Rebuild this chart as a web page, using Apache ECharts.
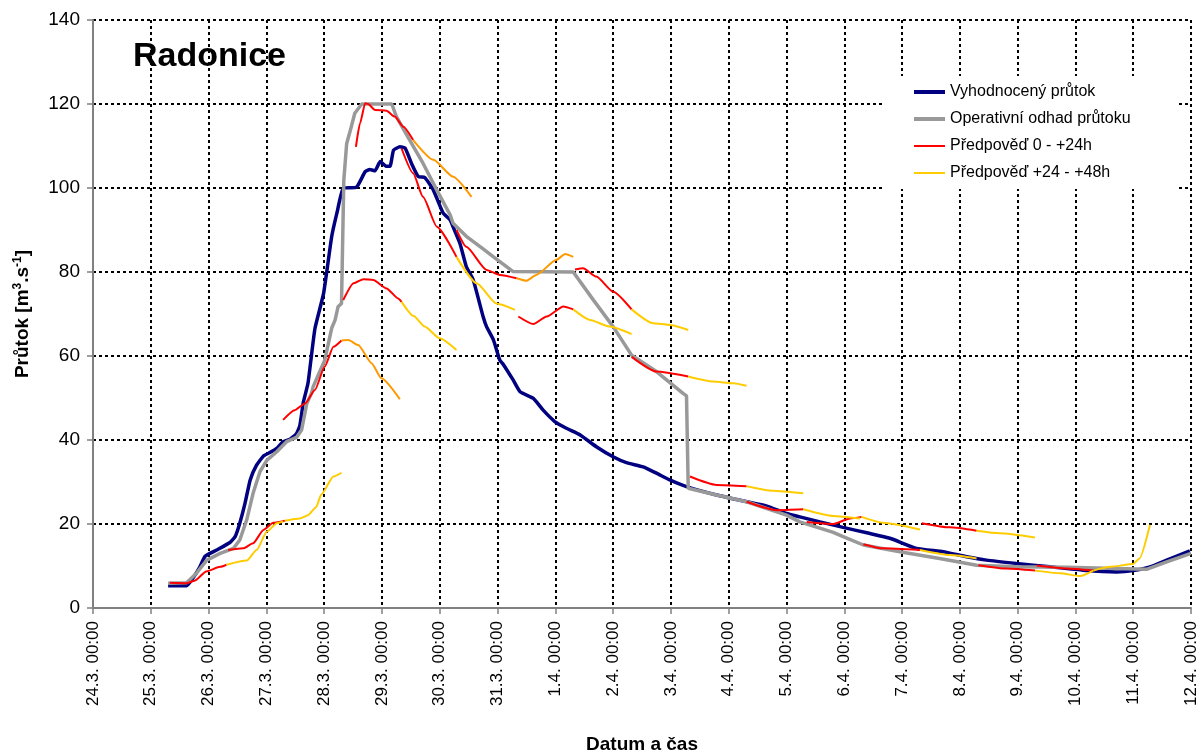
<!DOCTYPE html>
<html>
<head>
<meta charset="utf-8">
<script src="https://cdn.jsdelivr.net/npm/echarts@6/dist/echarts.min.js"></script>
<style>
html,body{margin:0;padding:0;background:#fff;}
#chart{width:1200px;height:754px;}
</style>
</head>
<body>
<div id="chart"></div>
<script>
// x values = days since 24.3. 00:00
const tickLabels = ['24.3. 00:00','25.3. 00:00','26.3. 00:00','27.3. 00:00','28.3. 00:00','29.3. 00:00','30.3. 00:00','31.3. 00:00','1.4. 00:00','2.4. 00:00','3.4. 00:00','4.4. 00:00','5.4. 00:00','6.4. 00:00','7.4. 00:00','8.4. 00:00','9.4. 00:00','10.4. 00:00','11.4. 00:00','12.4. 00:00'];
const yTicks = [0,20,40,60,80,100,120,140];

const observed = [[1.30,5.3],[1.62,5.3],[1.71,6.7],[1.85,9.8],[1.94,12.3],[2.14,13.8],[2.37,15.6],[2.46,17.0],[2.54,20.2],[2.63,24.9],[2.72,30.5],[2.83,34.0],[2.95,36.2],[3.06,37.0],[3.18,38.0],[3.29,39.6],[3.41,40.2],[3.52,41.5],[3.58,43.5],[3.64,49.0],[3.72,53.5],[3.84,66.5],[3.99,74.9],[4.13,88.4],[4.22,94.0],[4.33,99.9],[4.56,100.2],[4.71,103.9],[4.79,104.4],[4.88,104.1],[4.97,106.3],[5.07,105.2],[5.14,105.2],[5.20,109.0],[5.31,109.8],[5.40,109.5],[5.51,105.9],[5.63,102.7],[5.74,102.5],[5.89,99.5],[6.06,94.0],[6.18,92.4],[6.23,90.8],[6.35,86.8],[6.46,81.3],[6.58,78.1],[6.75,69.4],[6.81,67.0],[6.93,63.8],[7.04,59.0],[7.10,58.0],[7.27,54.3],[7.39,51.5],[7.62,49.9],[7.79,47.1],[7.99,44.4],[8.19,42.8],[8.43,41.2],[8.71,38.4],[9.00,36.0],[9.23,34.6],[9.52,33.6],[9.75,32.1],[9.98,30.5],[10.27,28.9],[10.79,26.9],[11.31,25.3],[11.65,24.3],[12.00,22.5],[12.23,21.7],[12.58,20.5],[12.98,19.2],[13.39,17.9],[13.79,16.6],[14.25,14.2],[14.71,13.4],[15.12,12.2],[15.46,11.4],[15.98,10.6],[16.56,9.8],[17.13,9.0],[17.71,8.6],[18.00,8.9],[18.29,9.8],[18.58,11.4],[18.98,13.6]];

const operative = [[1.30,5.9],[1.62,6.0],[1.79,8.3],[1.97,11.4],[2.20,13.0],[2.43,14.2],[2.54,16.2],[2.66,21.0],[2.77,27.3],[2.89,32.5],[3.01,35.2],[3.18,37.2],[3.35,39.6],[3.52,40.6],[3.61,42.4],[3.70,48.7],[3.78,51.1],[3.81,52.7],[4.01,59.0],[4.13,66.6],[4.19,68.6],[4.24,71.7],[4.30,72.5],[4.34,101.9],[4.39,110.6],[4.47,114.6],[4.53,117.8],[4.65,120.0],[5.17,120.0],[5.25,117.0],[5.48,111.4],[5.71,105.9],[5.95,99.5],[6.18,93.6],[6.23,91.6],[6.46,88.5],[6.75,85.5],[6.93,83.6],[7.27,80.1],[8.31,80.0],[8.66,73.3],[9.00,67.0],[9.32,60.2],[9.75,56.3],[10.21,51.1],[10.27,50.5],[10.30,28.5],[10.79,26.9],[11.31,25.3],[12.00,22.1],[12.23,20.5],[12.81,18.0],[12.98,17.0],[13.33,15.0],[13.96,13.4],[14.65,11.8],[15.29,10.2],[15.98,9.8],[16.85,9.7],[17.71,9.4],[18.23,9.2],[18.58,11.0],[19.00,13.0]];

const forecast0to24 = [
  [[1.33,6.0],[1.62,5.9],[1.76,6.5],[1.96,8.7],[2.20,9.8],[2.31,10.3]],
  [[2.34,13.8],[2.60,14.2],[2.77,15.4],[2.95,18.6],[3.12,20.3],[3.32,20.8]],
  [[3.29,44.8],[3.49,47.1],[3.67,48.7],[3.84,51.9],[4.01,57.5],[4.16,62.2],[4.30,63.7]],
  [[4.33,73.3],[4.51,77.3],[4.68,78.3],[4.85,78.1],[5.08,76.1],[5.28,73.7],[5.34,72.9]],
  [[4.55,109.8],[4.62,115.4],[4.71,120.2],[4.76,120.0],[4.88,118.6],[5.08,118.4],[5.22,117.0],[5.37,114.6],[5.54,111.4]],
  [[5.34,109.4],[5.54,103.5],[5.71,97.9],[5.95,90.8],[6.29,83.6]],
  [[6.29,90.0],[6.46,86.0],[6.81,80.5],[7.04,79.3],[7.33,78.5]],
  [[7.36,69.4],[7.62,67.6],[7.85,69.4],[8.14,71.8],[8.31,71.1]],
  [[8.34,80.6],[8.48,80.9],[8.71,78.9],[9.00,75.3],[9.32,71.1]],
  [[9.32,59.8],[9.75,56.3],[10.30,55.1]],
  [[10.33,31.3],[10.79,29.3],[11.31,29.0]],
  [[11.31,25.3],[11.83,23.3],[12.29,23.5]],
  [[12.35,20.5],[12.81,20.0],[13.10,21.3],[13.30,21.7]],
  [[13.33,15.2],[13.67,14.2],[14.31,13.8]],
  [[14.34,20.2],[14.83,19.2],[15.29,18.4]],
  [[15.32,10.2],[15.81,9.4],[16.30,8.9]],
  [[16.33,10.1],[16.85,9.4],[17.31,8.9]]
];

const forecast24to48 = [
  [[2.31,10.3],[2.66,11.3],[2.83,13.8],[3.01,18.2],[3.18,20.2],[3.29,20.6]],
  [[3.32,20.8],[3.58,21.3],[3.72,22.1],[3.86,24.0],[3.95,27.0],[4.16,31.3],[4.30,32.2]],
  [[5.34,72.9],[5.55,69.5],[5.74,67.0],[6.00,64.2],[6.29,61.4]],
  [[6.29,83.6],[6.64,77.3],[6.98,72.5],[7.30,71.0]],
  [[8.31,71.1],[8.60,68.6],[8.94,67.0],[9.32,65.2]],
  [[9.32,71.1],[9.69,67.8],[9.98,67.4],[10.30,66.2]],
  [[10.30,55.1],[10.73,53.9],[11.08,53.5],[11.31,52.9]],
  [[11.31,29.0],[11.77,27.9],[12.29,27.3]],
  [[12.29,23.5],[12.81,21.9],[13.27,21.3]],
  [[13.30,21.7],[13.67,20.3],[14.31,18.7]],
  [[14.31,13.8],[14.83,12.6],[15.29,11.8]],
  [[15.29,18.4],[15.69,17.8],[16.30,16.8]],
  [[16.30,8.9],[16.73,8.3],[17.08,7.6],[17.31,8.9]],
  [[17.31,8.9],[17.60,9.8],[18.00,10.5],[18.11,11.8],[18.29,19.8]]
];

const forecastOther = [
  [[4.30,63.7],[4.42,63.8],[4.59,62.6],[4.82,58.3],[4.99,54.7],[5.31,49.7]],
  [[5.54,111.4],[5.89,106.7],[6.23,102.7],[6.55,97.9]],
  [[7.33,78.5],[7.50,77.9],[7.67,79.3],[8.02,82.9],[8.17,84.3],[8.31,83.6]]
];

const names = ['Vyhodnocený průtok','Operativní odhad průtoku','Předpověď 0 - +24h','Předpověď +24 - +48h'];
const colors = ['#000080','#999999','#FF0000','#FFCC00'];
const FONT = "'Liberation Sans', Arial, sans-serif";

const series = [];
series.push({name:names[0],type:'line',data:observed,symbol:'none',smooth:0.15,lineStyle:{color:colors[0],width:3.5},itemStyle:{color:colors[0]},z:2});
series.push({name:names[1],type:'line',data:operative,symbol:'none',lineStyle:{color:colors[1],width:3.5},itemStyle:{color:colors[1]},z:3});
forecast0to24.forEach(seg=>series.push({name:names[2],type:'line',data:seg,symbol:'none',smooth:0.2,smoothMonotone:'x',lineStyle:{color:colors[2],width:2},itemStyle:{color:colors[2]},z:4}));
forecast24to48.forEach(seg=>series.push({name:names[3],type:'line',data:seg,symbol:'none',smooth:0.2,smoothMonotone:'x',lineStyle:{color:colors[3],width:2},itemStyle:{color:colors[3]},z:4}));
forecastOther.forEach(seg=>series.push({name:'other',type:'line',data:seg,symbol:'none',smooth:0.2,smoothMonotone:'x',lineStyle:{color:'#FF9900',width:2},itemStyle:{color:'#FF9900'},z:4}));

const chart = echarts.init(document.getElementById('chart'), null, {renderer:'canvas'});
chart.setOption({
  animation:false,
  backgroundColor:'#fff',
  textStyle:{fontFamily:FONT},
  title:{text:'Radonice',left:133,top:40,padding:0,textStyle:{fontFamily:FONT,fontSize:34,fontWeight:'bold',color:'#000'}},
  legend:{
    data:names.map((n,i)=>({name:n,lineStyle:{color:colors[i],width:i<2?4:2},itemStyle:{opacity:0,borderWidth:0}})),
    orient:'vertical',
    left:885, top:76,
    backgroundColor:'#fff',
    padding:[8,46,8,27],
    itemWidth:31, itemHeight:14, itemGap:11,
    itemStyle:{opacity:0,borderWidth:0},
    textStyle:{fontFamily:FONT,fontSize:16,color:'#000',lineHeight:14},
    z:10
  },
  grid:{left:93,right:9,top:20,bottom:146,containLabel:false,outerBoundsMode:'none'},
  xAxis:{
    type:'value',min:0,max:19,interval:1,
    name:'Datum a čas',nameLocation:'middle',nameGap:127,
    nameTextStyle:{fontFamily:FONT,fontSize:19,fontWeight:'bold',color:'#000'},
    axisLine:{show:true,lineStyle:{color:'#808080',width:2}},
    axisTick:{show:true,length:6,lineStyle:{color:'#808080',width:1.5}},
    axisLabel:{rotate:90,margin:13,fontFamily:FONT,fontSize:17,color:'#000',formatter:v=>tickLabels[Math.round(v)]},
    splitLine:{show:true,lineStyle:{color:'#000',type:[3,3],width:2}}
  },
  yAxis:{
    type:'value',min:0,max:140,interval:20,
    name:'{b|Průtok [m}{s|3}{b|.s}{s|-1}{b|]}',nameLocation:'middle',nameGap:60,nameRotate:90,
    nameTextStyle:{rich:{b:{fontFamily:FONT,fontSize:19,fontWeight:'bold',color:'#000'},s:{fontFamily:FONT,fontSize:12,fontWeight:'bold',color:'#000',verticalAlign:'top',padding:[0,0,9,0]}}},
    axisLine:{show:true,lineStyle:{color:'#808080',width:2}},
    axisTick:{show:true,length:6,lineStyle:{color:'#808080',width:1.5}},
    axisLabel:{margin:13,fontFamily:FONT,fontSize:19,color:'#000',formatter:v=>String(yTicks[Math.round(v/20)])},
    splitLine:{show:true,lineStyle:{color:'#000',type:[3,3],width:2}}
  },
  series:series
});
</script>
</body>
</html>
